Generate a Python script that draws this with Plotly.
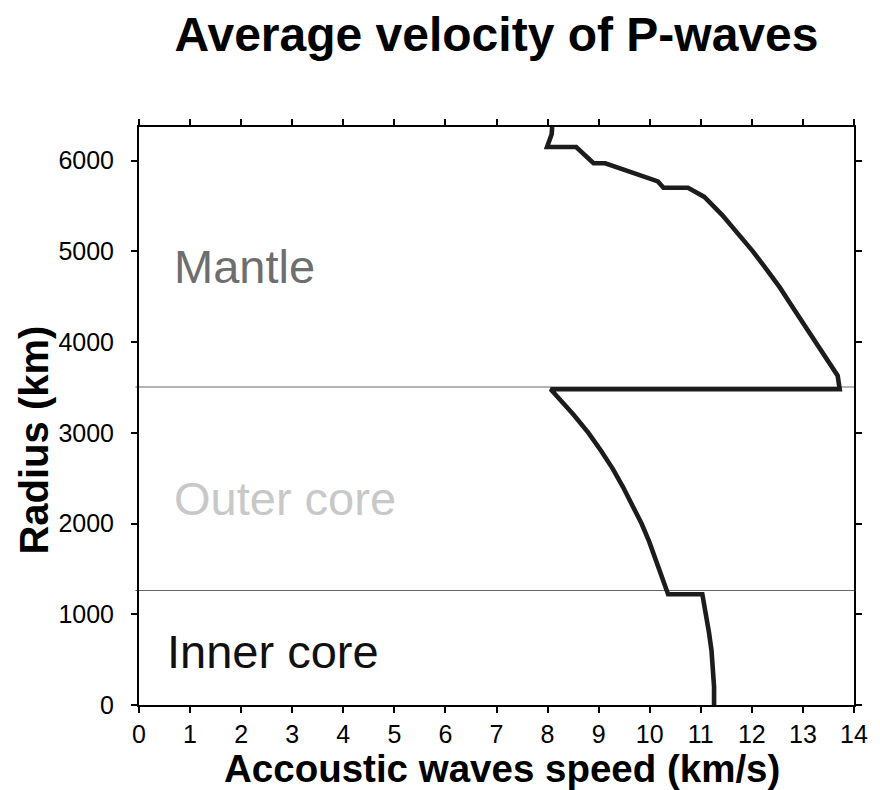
import plotly.graph_objects as go

# Average P-wave velocity profile through the Earth (radius vs speed)
speed_km_s = [8.09, 8.08, 7.99, 8.56, 8.90, 9.13, 10.16, 10.27, 10.75, 11.07,
              11.42, 11.73, 12.02, 12.29, 12.55, 12.78, 13.02, 13.24, 13.48,
              13.68, 13.72,
              8.06, 8.51, 8.80, 9.05, 9.28, 9.48, 9.67, 9.84, 9.99, 10.12,
              10.25, 10.36,
              11.03, 11.11, 11.16, 11.21, 11.24, 11.26, 11.26]
radius_km = [6371, 6291, 6151, 6151, 5971, 5971, 5771, 5701, 5701, 5600,
             5400, 5200, 5000, 4800, 4600, 4400, 4200, 4000, 3800,
             3630, 3480,
             3480, 3200, 3000, 2800, 2600, 2400, 2200, 2000, 1800, 1600,
             1400, 1221,
             1221, 1000, 800, 600, 400, 200, 0]

# Layer boundaries (core-mantle and inner-core boundaries)
boundary_radii = [3505, 1262]

# Layer names and where they are written
layer_names = ["Mantle", "Outer core", "Inner core"]
layer_label_x = [0.64, 0.64, 0.50]
layer_label_y = [4830, 2275, 585]
layer_colors = ["#6e6e6e", "#c8c8c8", "#111111"]

x_ticks = list(range(0, 15))
y_ticks = [0, 1000, 2000, 3000, 4000, 5000, 6000]

FONT = "Liberation Sans, Arial, Helvetica, sans-serif"

fig = go.Figure()

fig.add_trace(go.Scatter(
    x=speed_km_s, y=radius_km, mode="lines",
    line=dict(color="#1c1c1c", width=4.6, shape="linear"),
    showlegend=False, hoverinfo="x+y",
))

for r in boundary_radii:
    fig.add_shape(type="line", xref="paper", yref="y",
                  x0=-0.005, x1=1.002, y0=r, y1=r,
                  line=dict(color="#666666", width=1.2), layer="below")

for name, lx, ly, col in zip(layer_names, layer_label_x, layer_label_y, layer_colors):
    fig.add_annotation(x=lx, y=ly, xref="x", yref="y", text=name,
                       showarrow=False, xanchor="left", yanchor="middle",
                       font=dict(family=FONT, size=47, color=col))

# Axis titles
fig.add_annotation(x=0.507, y=-0.109, xref="paper", yref="paper",
                   text="<b>Accoustic waves speed (km/s)</b>", showarrow=False,
                   xanchor="center", yanchor="middle",
                   font=dict(family=FONT, size=38.5, color="black"))
fig.add_annotation(x=-0.147, y=0.459, xref="paper", yref="paper",
                   text="<b>Radius (km)</b>", showarrow=False, textangle=-90,
                   xanchor="center", yanchor="middle",
                   font=dict(family=FONT, size=40, color="black"))

axis_common = dict(showline=True, linecolor="black", linewidth=2,
                   mirror="ticks", ticks="outside", ticklen=6, tickwidth=1.5,
                   tickcolor="black", showgrid=False, zeroline=False,
                   tickfont=dict(family=FONT, size=25, color="black"))

fig.update_xaxes(range=[0, 14], tickvals=x_ticks, ticklabelstandoff=0, **axis_common)
fig.update_yaxes(range=[0, 6371], tickvals=y_ticks, ticklabelstandoff=12, **axis_common)

fig.update_layout(
    width=880, height=790,
    margin=dict(l=138.5, r=20, t=127, b=85),
    paper_bgcolor="white", plot_bgcolor="white",
    title=dict(text="<b>Average velocity of P-waves</b>",
               x=0.5, xref="paper", xanchor="center",
               y=0.957, yref="container", yanchor="middle",
               font=dict(family=FONT, size=48, color="black")),
    font=dict(family=FONT),
)

fig.write_html("out.html")
